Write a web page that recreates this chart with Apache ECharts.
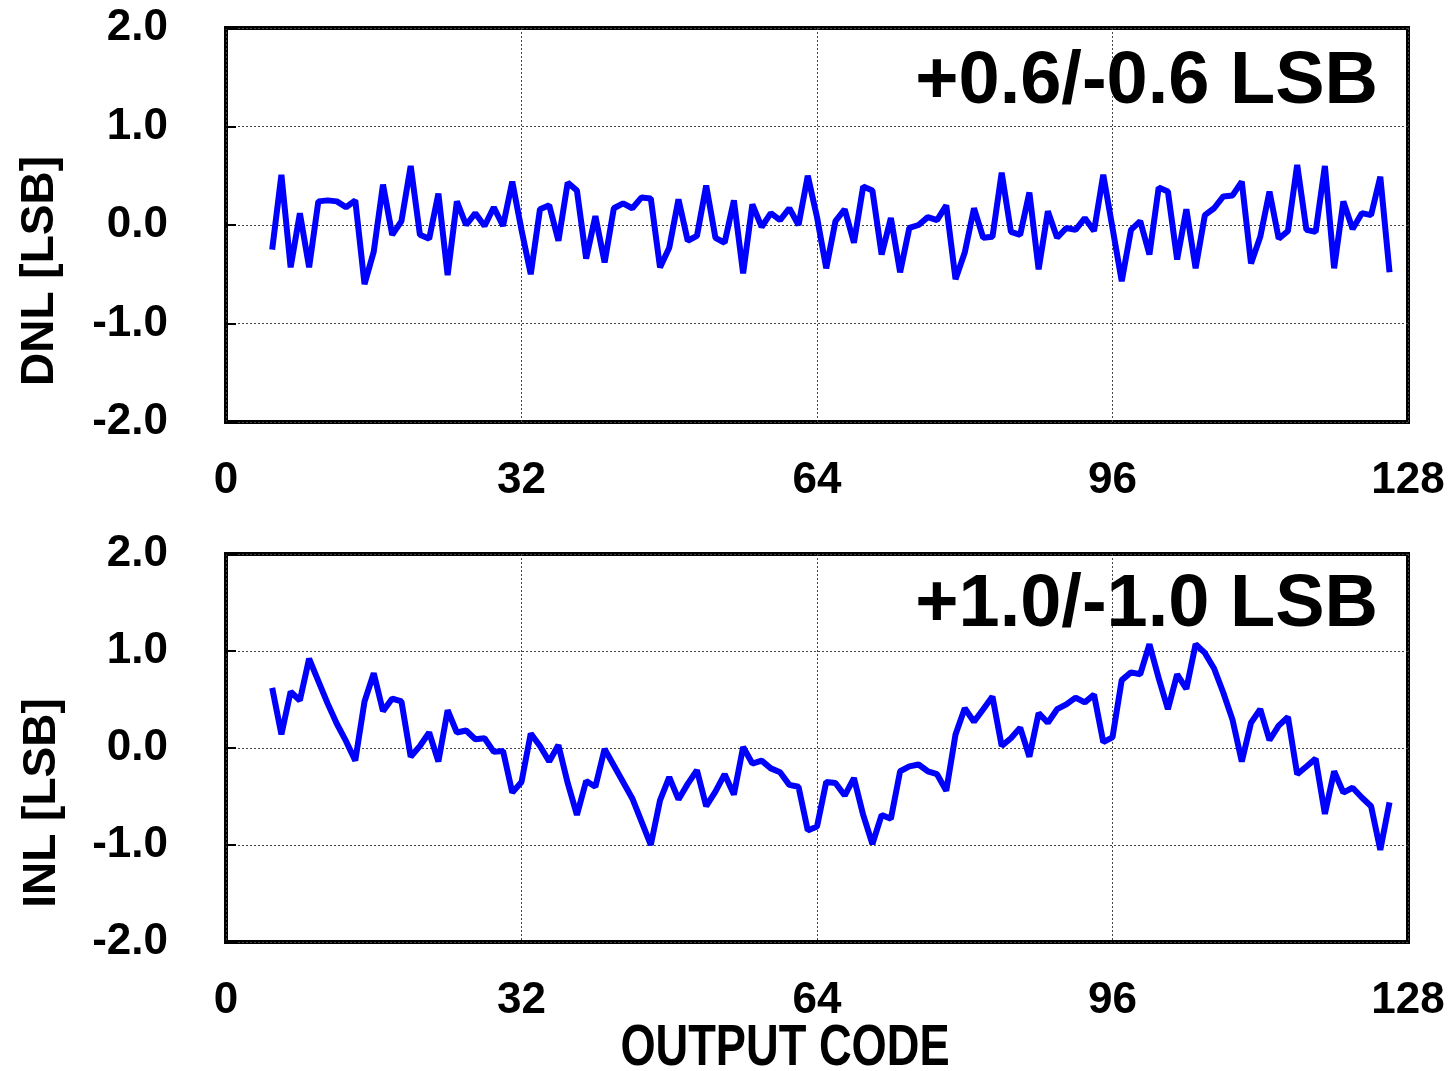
<!DOCTYPE html>
<html>
<head>
<meta charset="utf-8">
<title>DNL / INL</title>
<script src="https://cdn.jsdelivr.net/npm/echarts@6.0.0/dist/echarts.min.js"></script>
<style>
    html, body { margin: 0; padding: 0; background: #fff; }
    #chart { width: 1452px; height: 1071px; }
</style>
</head>
<body>
<div id="chart"></div>
<script>
    // output codes 5..126
    var firstCode = 5;
    var dnl = [
        -0.25, 0.51, -0.43, 0.12, -0.43, 0.24, 0.25, 0.24, 0.18, 0.25,
        -0.60, -0.27, 0.41, -0.10, 0.04, 0.60, -0.10, -0.14, 0.32, -0.51,
        0.24, 0.00, 0.12, -0.01, 0.18, -0.01, 0.44, -0.05, -0.50, 0.16,
        0.20, -0.16, 0.43, 0.35, -0.34, 0.09, -0.38, 0.17, 0.22, 0.17,
        0.28, 0.27, -0.43, -0.23, 0.26, -0.16, -0.11, 0.40, -0.13, -0.18,
        0.25, -0.49, 0.21, -0.02, 0.12, 0.05, 0.17, 0.00, 0.50, 0.08,
        -0.44, 0.04, 0.16, -0.18, 0.39, 0.35, -0.30, 0.07, -0.48, -0.03,
        0.00, 0.08, 0.05, 0.20, -0.55, -0.28, 0.17, -0.13, -0.12, 0.53,
        -0.07, -0.10, 0.33, -0.45, 0.14, -0.13, -0.03, -0.05, 0.07, -0.06,
        0.51, -0.03, -0.57, -0.05, 0.04, -0.30, 0.38, 0.34, -0.35, 0.16,
        -0.44, 0.10, 0.17, 0.29, 0.30, 0.44, -0.39, -0.12, 0.34, -0.14,
        -0.06, 0.61, -0.05, -0.07, 0.60, -0.44, 0.24, -0.04, 0.12, 0.10,
        0.49, -0.48
    ];
    var inl = [
        0.62, 0.14, 0.58, 0.49, 0.92, 0.69, 0.46, 0.25, 0.07, -0.13,
        0.48, 0.77, 0.38, 0.51, 0.48, -0.09, 0.02, 0.16, -0.14, 0.39,
        0.16, 0.18, 0.09, 0.10, -0.04, -0.03, -0.46, -0.35, 0.15, 0.02,
        -0.14, 0.03, -0.36, -0.69, -0.34, -0.40, -0.01, -0.18, -0.35, -0.52,
        -0.76, -1.00, -0.54, -0.30, -0.53, -0.37, -0.23, -0.60, -0.45, -0.27,
        -0.48, 0.01, -0.16, -0.13, -0.21, -0.25, -0.38, -0.40, -0.85, -0.81,
        -0.35, -0.36, -0.49, -0.31, -0.69, -0.99, -0.69, -0.73, -0.24, -0.19,
        -0.17, -0.24, -0.27, -0.44, 0.14, 0.41, 0.27, 0.40, 0.53, 0.02,
        0.10, 0.21, -0.09, 0.36, 0.26, 0.40, 0.45, 0.52, 0.47, 0.55,
        0.06, 0.11, 0.70, 0.78, 0.76, 1.07, 0.72, 0.40, 0.76, 0.61,
        1.07, 0.98, 0.82, 0.57, 0.29, -0.14, 0.26, 0.40, 0.08, 0.23,
        0.32, -0.27, -0.19, -0.11, -0.68, -0.24, -0.46, -0.41, -0.51, -0.60,
        -1.05, -0.56
    ];
    var xTicks = [0, 32, 64, 96, 128];
    var yTicks = [-2, -1, 0, 1, 2];
    var yNames = ['DNL [LSB]', 'INL [LSB]'];
    var notes = ['+0.6/-0.6 LSB', '+1.0/-1.0 LSB'];
    var xName = 'OUTPUT CODE';

    function pairs(vals) {
        return vals.map(function (v, i) { return [firstCode + i, v]; });
    }

    var font = 'Liberation Sans, Arial, sans-serif';
    var grid = [
        {left: 226, top: 28, width: 1182, height: 394},
        {left: 226, top: 554, width: 1182, height: 388}
    ];
    grid.forEach(function (g) {
        g.show = true;
        g.borderColor = '#000';
        g.borderWidth = 4;
        g.backgroundColor = '#fff';
    });

    var gridLine = {show: true, lineStyle: {color: '#444', width: 1, type: [2, 2]}};

    var xAxis = [0, 1].map(function (i) {
        return {
            type: 'value', gridIndex: i,
            min: xTicks[0], max: xTicks[xTicks.length - 1], interval: 32,
            axisLine: {show: false},
            axisTick: {show: false},
            splitLine: gridLine,
            axisLabel: {
                margin: 37, color: '#000', fontSize: 44, fontWeight: 'bold', fontFamily: font
            }
        };
    });
    var yAxis = [0, 1].map(function (i) {
        return {
            type: 'value', gridIndex: i,
            min: yTicks[0], max: yTicks[yTicks.length - 1], interval: 1,
            axisLine: {show: false},
            axisTick: {show: true, inside: true, length: 10, lineStyle: {color: '#000', width: 2}},
            splitLine: gridLine,
            axisLabel: {
                margin: 58, color: '#000', fontSize: 44, fontWeight: 'bold', fontFamily: font,
                formatter: function (v) { return v.toFixed(1); }
            }
        };
    });

    var series = [dnl, inl].map(function (vals, i) {
        return {
            type: 'line', xAxisIndex: i, yAxisIndex: i,
            data: pairs(vals),
            showSymbol: false,
            lineStyle: {color: '#0000ff', width: 6},
            itemStyle: {color: '#0000ff'},
            z: 3
        };
    });

    function label(text, x, y, size, extra) {
        var el = {
            type: 'text', x: x, y: y, z: 10,
            style: {text: text, font: 'bold ' + size + 'px ' + font, fill: '#000',
                textAlign: extra.align || 'center', textVerticalAlign: 'middle'}
        };
        if (extra.rotation) el.rotation = extra.rotation;
        if (extra.scaleX) el.scaleX = extra.scaleX;
        return el;
    }

    var chart = echarts.init(document.getElementById('chart'));
    chart.setOption({
        animation: false,
        backgroundColor: '#fff',
        grid: grid,
        xAxis: xAxis,
        yAxis: yAxis,
        series: series,
        graphic: [
            label(notes[0], 1378, 83, 74, {align: 'right'}),
            label(notes[1], 1378, 606, 74, {align: 'right'}),
            label(yNames[0], 40, 271, 46, {rotation: Math.PI / 2}),
            label(yNames[1], 42, 803, 46, {rotation: Math.PI / 2}),
            label(xName, 785, 1049, 58, {scaleX: 0.78})
        ]
    });
</script>
</body>
</html>
